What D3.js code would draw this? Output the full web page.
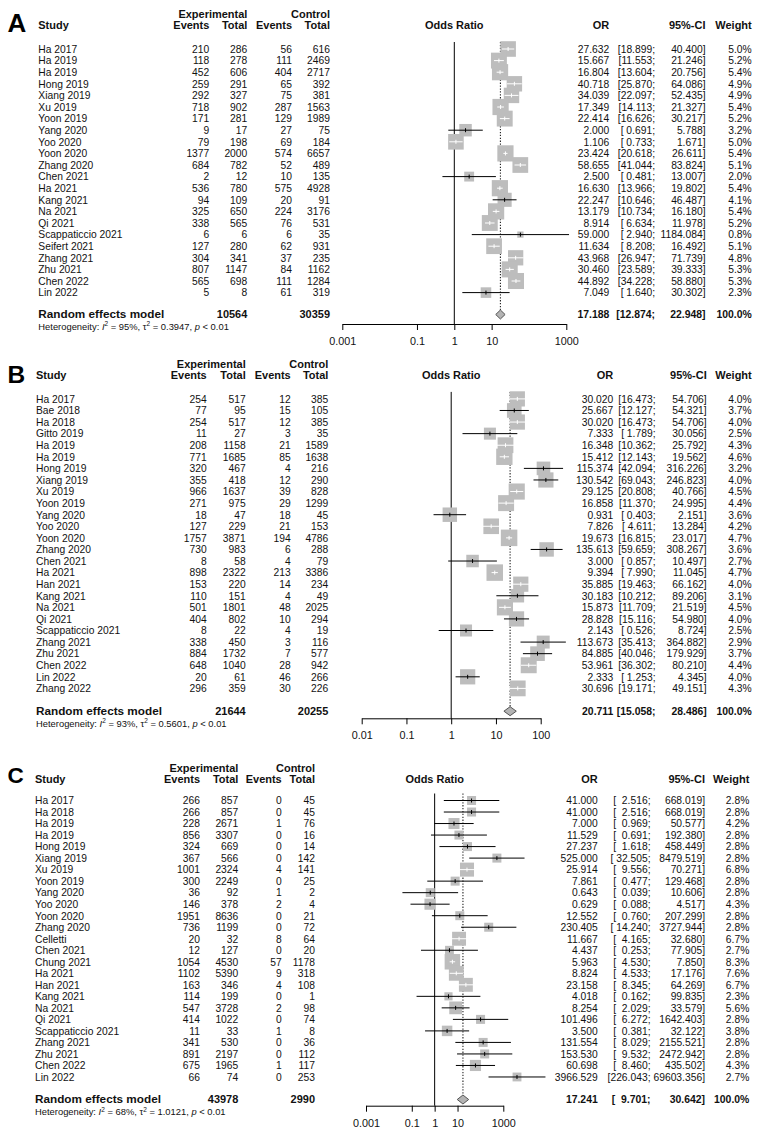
<!DOCTYPE html>
<html><head><meta charset="utf-8">
<script src="https://cdn.jsdelivr.net/npm/d3@7"></script>
<style>html,body{margin:0;padding:0;background:#fff;}svg{display:block;}text{font-family:"Liberation Sans",Arial,sans-serif;}</style>
</head><body><svg id="c" width="762" height="1137"></svg>
<script>
// ---------------- Panel A ----------------
const studiesA = ["Ha 2017","Ha 2019","Ha 2019","Hong 2019","Xiang 2019","Xu 2019","Yoon 2019","Yang 2020","Yoo 2020","Yoon 2020","Zhang 2020","Chen 2021","Ha 2021","Kang 2021","Na 2021","Qi 2021","Scappaticcio 2021","Seifert 2021","Zhang 2021","Zhu 2021","Chen 2022","Lin 2022"];
const expEventsA = [210,118,452,259,292,718,171,9,79,1377,684,2,536,94,325,338,6,127,304,807,565,5];
const expTotalA = [286,278,606,291,327,902,281,17,198,2000,782,12,780,109,650,565,6,280,341,1147,698,8];
const ctrlEventsA = [56,111,404,65,75,287,129,27,69,574,52,10,575,20,224,76,6,62,37,84,111,61];
const ctrlTotalA = [616,2469,2717,392,381,1563,1989,75,184,6657,489,135,4928,91,3176,531,35,931,235,1162,1284,319];
const orA = [27.632,15.667,16.804,40.718,34.039,17.349,22.414,2.000,1.106,23.424,58.655,2.500,16.630,22.247,13.179,8.914,59.000,11.634,43.968,30.460,44.892,7.049];
const lowerA = [18.899,11.553,13.604,25.870,22.097,14.113,16.626,0.691,0.733,20.618,41.044,0.481,13.966,10.646,10.734,6.634,2.940,8.208,26.947,23.589,34.228,1.640];
const upperA = [40.400,21.246,20.756,64.086,52.435,21.327,30.217,5.788,1.671,26.611,83.824,13.007,19.802,46.487,16.180,11.978,1184.084,16.492,71.739,39.333,58.880,30.302];
const weightA = [5.0,5.2,5.4,4.9,4.9,5.4,5.2,3.2,5.0,5.4,5.1,2.0,5.4,4.1,5.4,5.2,0.8,5.1,4.8,5.3,5.3,2.3];
const summaryA = [17.188, 12.874, 22.948];
const totalsA = [10564, 30359];
const hetA = ["95%", "0.3947", "< 0.01"];
const ticksA = [0.001, 0.1, 1, 10, 1000];

// ---------------- Panel B ----------------
const studiesB = ["Ha 2017","Bae 2018","Ha 2018","Gitto 2019","Ha 2019","Ha 2019","Hong 2019","Xiang 2019","Xu 2019","Yoon 2019","Yang 2020","Yoo 2020","Yoon 2020","Zhang 2020","Chen 2021","Ha 2021","Han 2021","Kang 2021","Na 2021","Qi 2021","Scappaticcio 2021","Zhang 2021","Zhu 2021","Chen 2022","Lin 2022","Zhang 2022"];
const expEventsB = [254,77,254,11,208,771,320,355,966,271,18,127,1757,730,8,898,153,110,501,404,8,338,884,648,20,296];
const expTotalB = [517,95,517,27,1158,1685,467,418,1637,975,47,229,3871,983,58,2322,220,151,1801,802,22,450,1732,1040,61,359];
const ctrlEventsB = [12,15,12,3,21,85,4,12,39,29,18,21,194,6,4,213,14,4,48,10,4,3,7,28,46,30];
const ctrlTotalB = [385,105,385,35,1589,1638,216,290,828,1299,45,153,4786,288,79,3386,234,49,2025,294,19,116,577,942,266,226];
const orB = [30.020,25.667,30.020,7.333,16.348,15.412,115.374,130.542,29.125,16.858,0.931,7.826,19.673,135.613,3.000,9.394,35.885,30.183,15.873,28.828,2.143,113.673,84.885,53.961,2.333,30.696];
const lowerB = [16.473,12.127,16.473,1.789,10.362,12.143,42.094,69.043,20.808,11.370,0.403,4.611,16.815,59.659,0.857,7.990,19.463,10.212,11.709,15.116,0.526,35.413,40.046,36.302,1.253,19.171];
const upperB = [54.706,54.321,54.706,30.056,25.792,19.562,316.226,246.823,40.766,24.995,2.151,13.284,23.017,308.267,10.497,11.045,66.162,89.206,21.519,54.980,8.724,364.882,179.929,80.210,4.345,49.151];
const weightB = [4.0,3.7,4.0,2.5,4.3,4.6,3.2,4.0,4.5,4.4,3.6,4.2,4.7,3.6,2.7,4.7,4.0,3.1,4.5,4.0,2.5,2.9,3.7,4.4,4.0,4.3];
const summaryB = [20.711, 15.058, 28.486];
const totalsB = [21644, 20255];
const hetB = ["93%", "0.5601", "< 0.01"];
const ticksB = [0.01, 0.1, 1, 10, 100];

// ---------------- Panel C ----------------
const studiesC = ["Ha 2017","Ha 2018","Ha 2019","Ha 2019","Hong 2019","Xiang 2019","Xu 2019","Yoon 2019","Yang 2020","Yoo 2020","Yoon 2020","Zhang 2020","Celletti","Chen 2021","Chung 2021","Ha 2021","Han 2021","Kang 2021","Na 2021","Qi 2021","Scappaticcio 2021","Zhang 2021","Zhu 2021","Chen 2022","Lin 2022"];
const expEventsC = [266,266,228,856,324,367,1001,300,36,146,1951,736,20,12,1054,1102,163,114,547,414,11,341,891,675,66];
const expTotalC = [857,857,2671,3307,669,566,2324,2249,92,378,8636,1199,32,127,4530,5390,346,199,3728,1022,33,530,2197,1965,74];
const ctrlEventsC = [0,0,1,0,0,0,4,0,1,2,0,0,8,0,57,9,4,0,2,0,1,0,0,1,0];
const ctrlTotalC = [45,45,76,16,14,142,141,25,2,4,21,72,64,20,1178,318,108,1,98,74,8,36,112,117,253];
const orC = [41.000,41.000,7.000,11.529,27.237,525.000,25.914,7.861,0.643,0.629,12.552,230.405,11.667,4.437,5.963,8.824,23.158,4.018,8.254,101.496,3.500,131.554,153.530,60.698,3966.529];
const lowerC = [2.516,2.516,0.969,0.691,1.618,32.505,9.556,0.477,0.039,0.088,0.760,14.240,4.165,0.253,4.530,4.533,8.345,0.162,2.029,6.272,0.381,8.029,9.532,8.460,226.043];
const upperC = [668.019,668.019,50.577,192.380,458.449,8479.519,70.271,129.468,10.606,4.517,207.299,3727.944,32.680,77.905,7.850,17.176,64.269,99.835,33.579,1642.403,32.122,2155.521,2472.942,435.502,69603.356];
const weightC = [2.8,2.8,4.2,2.8,2.8,2.8,6.8,2.8,2.8,4.3,2.8,2.8,6.7,2.7,8.3,7.6,6.7,2.3,5.6,2.8,3.8,2.8,2.8,4.3,2.7];
const summaryC = [17.241, 9.701, 30.642];
const totalsC = [43978, 2990];
const hetC = ["68%", "1.0121", "< 0.01"];
const ticksC = [0.001, 0.1, 1, 10, 1000];

// ---------------- layout ----------------
const panels = [
  {letter:"A", lSize:26, lY:31.7, h1:17.5, h2:29.3, sX:38.3, cols:[209.3,247.3,292,330], r0:52.8, pitch:11.6, sumB:318.3, hetY:329.5, axisY:324, range:[342.3,566.3], orX:609.3, semiX:655, ciX:705.5, wX:751.7, sq:16.2,
   studies:studiesA, ee:expEventsA, et:expTotalA, ce:ctrlEventsA, ct:ctrlTotalA, or:orA, lo:lowerA, hi:upperA, w:weightA, sum:summaryA, tot:totalsA, het:hetA, ticks:ticksA},
  {letter:"B", lSize:24.5, lY:382.7, h1:367.8, h2:379, sX:36, cols:[206.7,245.7,290.7,328.3], r0:402.7, pitch:11.58, sumB:715, hetY:726.7, axisY:718.3, range:[361.7,540.7], orX:613.3, semiX:655.5, ciX:706.7, wX:751.7, sq:16.5,
   studies:studiesB, ee:expEventsB, et:expTotalB, ce:ctrlEventsB, ct:ctrlTotalB, or:orB, lo:lowerB, hi:upperB, w:weightB, sum:summaryB, tot:totalsB, het:hetB, ticks:ticksB},
  {letter:"C", lSize:22.5, lY:783.3, h1:771.7, h2:782.7, sX:35, cols:[200,238.3,281.7,315], r0:804.3, pitch:11.52, sumB:1103.3, hetY:1115, axisY:1105.7, range:[366,503.3], orX:597.7, semiX:650.5, ciX:705, wX:749.3, sq:15.5,
   studies:studiesC, ee:expEventsC, et:expTotalC, ce:ctrlEventsC, ct:ctrlTotalC, or:orC, lo:lowerC, hi:upperC, w:weightC, sum:summaryC, tot:totalsC, het:hetC, ticks:ticksC}
];

const f3 = d3.format(".3f"), f1 = d3.format(".1f");
const svg = d3.select("#c");
const INK = "#111";

function T(g, x, y, s, o = {}) {
  const bold = !!o.bold;
  const size = o.size || 11.2;
  const sx = o.sx || (bold ? 0.98 : 0.92);
  return g.append("text")
    .attr("transform", `translate(${x},${y}) scale(${sx},1)`)
    .attr("text-anchor", o.anchor || "start")
    .attr("font-size", size)
    .attr("font-weight", bold ? "bold" : "normal")
    .attr("fill", INK)
    .attr("xml:space", "preserve")
    .style("white-space", "pre")
    .text(s);
}

panels.forEach(p => {
  const g = svg.append("g");
  const x = d3.scaleLog().domain([p.ticks[0], p.ticks[p.ticks.length - 1]]).range(p.range);
  const n = p.studies.length;
  const base = i => p.r0 + i * p.pitch;
  const cy = i => base(i) - 3.8;
  const sumCy = p.sumB - 3.8;
  const top = cy(0) - 7;
  const maxW = d3.max(p.w);

  g.append("text").attr("x", 7.5).attr("y", p.lY).attr("font-size", p.lSize).attr("font-weight", "bold")
    .attr("fill", "#000").text(p.letter);

  T(g, p.sX, p.h2, "Study", {bold: true});
  T(g, p.cols[1], p.h1, "Experimental", {bold: true, anchor: "end"});
  T(g, p.cols[3], p.h1, "Control", {bold: true, anchor: "end"});
  T(g, p.cols[0], p.h2, "Events", {bold: true, anchor: "end"});
  T(g, p.cols[1], p.h2, "Total", {bold: true, anchor: "end"});
  T(g, p.cols[2], p.h2, "Events", {bold: true, anchor: "end"});
  T(g, p.cols[3], p.h2, "Total", {bold: true, anchor: "end"});
  T(g, (p.range[0] + p.range[1]) / 2, p.h2, "Odds Ratio", {bold: true, anchor: "middle"});
  T(g, p.orX, p.h2, "OR", {bold: true, anchor: "end"});
  T(g, p.ciX, p.h2, "95%-CI", {bold: true, anchor: "end"});
  T(g, p.wX, p.h2, "Weight", {bold: true, anchor: "end"});

  g.append("line").attr("x1", x(1)).attr("x2", x(1)).attr("y1", top).attr("y2", p.axisY)
    .attr("stroke", "#000").attr("stroke-width", 1);
  g.append("line").attr("x1", x(p.sum[0])).attr("x2", x(p.sum[0])).attr("y1", top).attr("y2", sumCy - 4.5)
    .attr("stroke", "#222").attr("stroke-width", 1.1).attr("stroke-dasharray", "1.3,1.6");

  const lowStr = p.lo.concat([p.sum[1]]).map(f3);
  const wl = d3.max(lowStr, s => s.length);
  for (let i = 0; i < n; i++) {
    const cx = x(p.or[i]), y = cy(i);
    const s = p.sq * Math.sqrt(p.w[i] / maxW);
    const xl = x(p.lo[i]), xh = x(p.hi[i]);
    const halfCI = Math.max(cx - xl, xh - cx);
    const inside = halfCI <= 1.575 * s / 2;
    const col = inside ? "#fff" : "#000";
    g.append("rect").attr("x", cx - s / 2).attr("y", y - s / 2).attr("width", s).attr("height", s).attr("fill", "#bdbdbd");
    g.append("line").attr("x1", xl).attr("x2", xh).attr("y1", y).attr("y2", y).attr("stroke", col).attr("stroke-width", 1);
    g.append("line").attr("x1", cx).attr("x2", cx).attr("y1", y - 2).attr("y2", y + 2).attr("stroke", col).attr("stroke-width", 1);

    const b = base(i);
    T(g, p.sX, b, p.studies[i]);
    T(g, p.cols[0], b, String(p.ee[i]), {anchor: "end"});
    T(g, p.cols[1], b, String(p.et[i]), {anchor: "end"});
    T(g, p.cols[2], b, String(p.ce[i]), {anchor: "end"});
    T(g, p.cols[3], b, String(p.ct[i]), {anchor: "end"});
    T(g, p.orX, b, f3(p.or[i]), {anchor: "end"});
    T(g, p.semiX, b, "[" + lowStr[i].padStart(wl) + ";", {anchor: "end"});
    T(g, p.ciX, b, f3(p.hi[i]) + "]", {anchor: "end"});
    T(g, p.wX, b, f1(p.w[i]) + "%", {anchor: "end"});
  }

  const dx1 = x(p.sum[1]), dx2 = x(p.sum[2]), dxc = x(p.sum[0]);
  g.append("path").attr("d", `M${dx1},${sumCy} L${dxc},${sumCy - 4.5} L${dx2},${sumCy} L${dxc},${sumCy + 4.5} Z`)
    .attr("fill", "#b4b4b4").attr("stroke", "#555").attr("stroke-width", 1);

  T(g, p.sX, p.sumB, "Random effects model", {bold: true, sx: 1.05});
  T(g, p.cols[1], p.sumB, String(p.tot[0]), {bold: true, anchor: "end"});
  T(g, p.cols[3], p.sumB, String(p.tot[1]), {bold: true, anchor: "end"});
  T(g, p.orX, p.sumB, f3(p.sum[0]), {bold: true, anchor: "end", sx: 0.93});
  T(g, p.semiX, p.sumB, "[" + lowStr[n].padStart(wl) + ";", {bold: true, anchor: "end", sx: 0.93});
  T(g, p.ciX, p.sumB, f3(p.sum[2]) + "]", {bold: true, anchor: "end", sx: 0.93});
  T(g, p.wX, p.sumB, "100.0%", {bold: true, anchor: "end", sx: 0.93});

  const ht = g.append("text").attr("x", p.sX).attr("y", p.hetY).attr("font-size", 9.4).attr("fill", INK);
  ht.append("tspan").text("Heterogeneity: ");
  ht.append("tspan").attr("font-style", "italic").text("I");
  ht.append("tspan").attr("dy", -3.5).attr("font-size", 6.5).text("2");
  ht.append("tspan").attr("dy", 3.5).text(" = " + p.het[0] + ", τ");
  ht.append("tspan").attr("dy", -3.5).attr("font-size", 6.5).text("2");
  ht.append("tspan").attr("dy", 3.5).text(" = " + p.het[1] + ", ");
  ht.append("tspan").attr("font-style", "italic").text("p");
  ht.append("tspan").text(" " + p.het[2]);

  const ax = d3.axisBottom(x).tickValues(p.ticks).tickFormat(d => String(d)).tickSize(6).tickSizeOuter(0).tickPadding(7.5);
  const ag = g.append("g").attr("transform", `translate(0,${p.axisY})`).call(ax);
  ag.select(".domain").attr("stroke", "#000");
  ag.selectAll(".tick line").attr("stroke", "#000");
  ag.selectAll(".tick text").attr("font-size", 10.8).attr("fill", INK).attr("font-family", "'Liberation Sans',Arial,sans-serif");
});
</script></body></html>
